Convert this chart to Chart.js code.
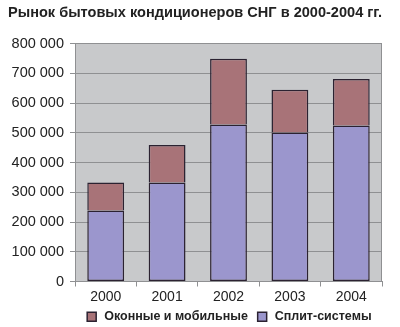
<!DOCTYPE html>
<html>
<head>
<meta charset="utf-8">
<script src="https://cdn.jsdelivr.net/npm/chart.js@4.4.1/dist/chart.umd.min.js"></script>
<style>
  html, body { margin: 0; padding: 0; background: #fff; }
  #wrap { width: 400px; height: 327px; }
</style>
</head>
<body>
<div id="wrap"><canvas id="chart" width="400" height="327"></canvas></div>
<script>
// Données
const years = ['2000', '2001', '2002', '2003', '2004'];
const splitSystems = [239000, 333000, 528000, 501000, 525000];
const windowMobile = [94000, 126000, 221000, 144000, 156000];
const yTicks = [0, 100000, 200000, 300000, 400000, 500000, 600000, 700000, 800000];

const fontFamily = '"Liberation Sans", Arial, sans-serif';

// Fond gris et cadre de la zone de tracé
const plotBg = {
    id: 'plotBg',
    beforeDraw(chart) {
        const { ctx, chartArea: a } = chart;
        ctx.save();
        ctx.fillStyle = '#c8c9cb';
        ctx.fillRect(a.left, a.top, a.width, a.height);
        ctx.restore();
    },
    beforeDatasetsDraw(chart) {
        const { ctx, chartArea: a } = chart;
        ctx.save();
        ctx.strokeStyle = '#8f9092';
        ctx.lineWidth = 1;
        ctx.beginPath();
        ctx.moveTo(a.right - 0.5, a.top);
        ctx.lineTo(a.right - 0.5, a.bottom);
        ctx.stroke();
        ctx.restore();
    }
};

const fmt = v => String(v).replace(/\B(?=(\d{3})+(?!\d))/g, ' ');

new Chart(document.getElementById('chart').getContext('2d'), {
    type: 'bar',
    data: {
        labels: years,
        datasets: [{
            label: 'Сплит-системы',
            data: splitSystems,
            backgroundColor: '#9b96cd',
            borderColor: '#2b2231',
            borderWidth: 1.5,
            borderSkipped: false,
            categoryPercentage: 0.6,
            barPercentage: 1
        }, {
            label: 'Оконные и мобильные',
            data: windowMobile,
            backgroundColor: '#a87378',
            borderColor: '#2b2231',
            borderWidth: 1.5,
            borderSkipped: 'start',
            categoryPercentage: 0.6,
            barPercentage: 1
        }]
    },
    options: {
        responsive: false,
        animation: false,
        layout: { padding: { left: 8, right: 18, top: 3, bottom: -6 } },
        plugins: {
            title: {
                display: true,
                text: 'Рынок бытовых кондиционеров СНГ в 2000-2004 гг.',
                color: '#222',
                font: { family: fontFamily, size: 15.5, weight: 'bold' },
                padding: { top: 0, bottom: 22 }
            },
            legend: {
                position: 'bottom',
                reverse: true,
                fullSize: false,
                labels: {
                    color: '#222',
                    font: { family: fontFamily, size: 12.5, weight: 'bold' },
                    usePointStyle: true,
                    pointStyle: 'rect',
                    boxWidth: 12.5,
                    boxHeight: 9,
                    padding: 8
                }
            },
            tooltip: { enabled: false }
        },
        scales: {
            x: {
                stacked: true,
                grid: {
                    drawOnChartArea: false,
                    drawTicks: true,
                    tickLength: 5,
                    color: '#8f9092'
                },
                border: { color: '#8f9092' },
                ticks: {
                    color: '#222',
                    font: { family: fontFamily, size: 14 },
                    padding: 2
                },
                afterFit(scale) { scale.height = 21; }
            },
            y: {
                stacked: true,
                min: 0,
                max: 800000,
                afterBuildTicks(scale) { scale.ticks = yTicks.map(v => ({ value: v })); },
                grid: {
                    color: '#8f9092',
                    tickLength: 5
                },
                border: { color: '#8f9092' },
                ticks: {
                    color: '#222',
                    font: { family: fontFamily, size: 14.5 },
                    padding: 6,
                    callback: v => fmt(v)
                },
                afterFit(scale) { scale.width = 67; }
            }
        }
    },
    plugins: [plotBg]
});
</script>
</body>
</html>
